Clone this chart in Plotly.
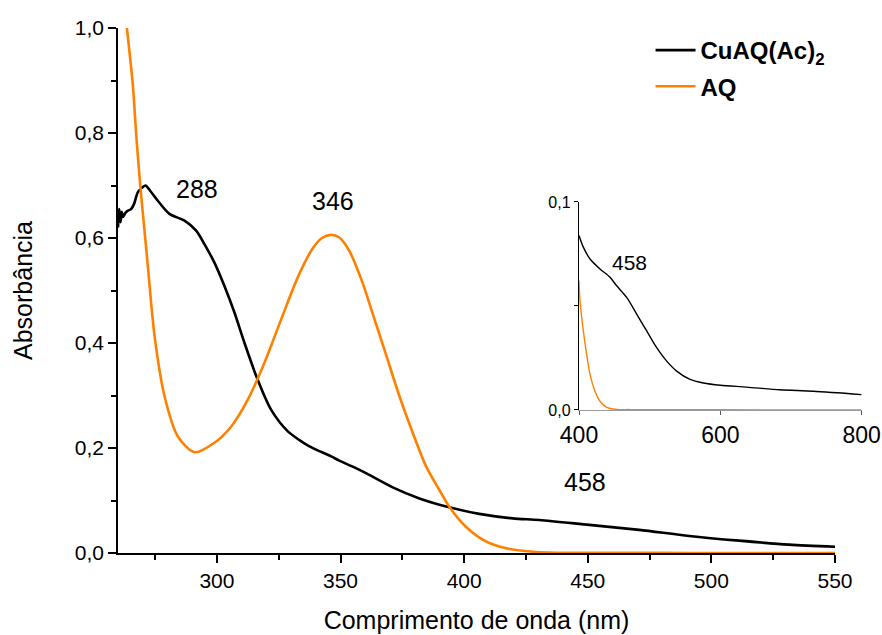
import plotly.graph_objects as go

# ---- UV-Vis spectra (main panel, 260-550 nm) ----
cuaq_wl = [260, 260.5, 261, 261.5, 262, 263, 264, 265.3, 266.5, 268, 269.5, 271.1, 273,
           276.1, 280.8, 286.9, 291.6, 295, 299, 303, 307.1, 311.1, 316.5, 321.9, 328.6,
           333.4, 336.7, 340.1, 346.2, 349.5, 355.6, 360.3, 371.1, 381.9, 394, 406.1,
           419.6, 430.4, 450.6, 470.8, 491, 511.2, 531.4, 550]
cuaq_abs = [0.62, 0.655, 0.63, 0.65, 0.64, 0.648, 0.652, 0.655, 0.665, 0.687, 0.695, 0.700, 0.69,
            0.671, 0.646, 0.633, 0.614, 0.588, 0.553, 0.509, 0.458, 0.401, 0.330, 0.273, 0.232,
            0.215, 0.205, 0.197, 0.184, 0.176, 0.163, 0.152, 0.125, 0.104, 0.087, 0.0745,
            0.066, 0.063, 0.0535, 0.044, 0.0325, 0.0235, 0.016, 0.012]

aq_wl = [263.6, 266, 267.4, 269, 270, 272, 274.8, 278.8, 284.2, 290.9, 299, 305.8, 312.5,
         319.2, 326, 332.7, 338.7, 342.5, 346, 349.5, 353.6, 358.9, 363, 368.4, 373.8, 379.2,
         384.6, 390, 394, 400.7, 408.8, 416.9, 427.7, 434.4, 445, 460, 480, 500, 525, 550]
aq_abs = [1.0, 0.891, 0.795, 0.70, 0.65, 0.55, 0.413, 0.299, 0.222, 0.192, 0.210, 0.241, 0.292,
          0.362, 0.445, 0.525, 0.58, 0.60, 0.606, 0.601, 0.575, 0.515, 0.456, 0.378, 0.299, 0.229,
          0.165, 0.120, 0.088, 0.050, 0.022, 0.009, 0.0025, 0.001, 0.0005, 0.0003, 0.0002,
          0.0001, 0.0001, 0.0001]

# ---- Visible region (inset, 400-800 nm) ----
cuaq_vis_wl = [400, 406.1, 415.6, 429.7, 443.9, 453.3, 467.5, 481.6, 495.8, 509.9, 524.1,
               538.2, 557.1, 575.9, 600, 637.3, 684.4, 731.6, 800]
cuaq_vis_abs = [0.0839, 0.0783, 0.0726, 0.0678, 0.0638, 0.0597, 0.0541, 0.0461, 0.0380, 0.0300,
                0.0235, 0.0187, 0.0147, 0.0130, 0.0119, 0.0110, 0.0097, 0.0090, 0.0074]

aq_vis_wl = [400, 401.4, 406.1, 410.8, 415.6, 422.6, 429.7, 439.2, 453.3, 472, 600, 800]
aq_vis_abs = [0.0622, 0.0525, 0.0380, 0.0267, 0.0171, 0.0090, 0.0042, 0.0013, 0.0003, 0.0002,
              0.0001, 0.0]

# peak labels: (wavelength, absorbance, text)
main_peaks = [(291.8, 0.693, "288"), (346.8, 0.671, "346"), (448.8, 0.136, "458")]
inset_peaks = [(472.0, 0.0708, "458")]

BLACK = "#000000"
ORANGE = "#FF8000"
FONT = "Liberation Sans, Arial, sans-serif"

fig = go.Figure()

main_line = dict(width=2.6, shape="spline", smoothing=0.8)
inset_line = dict(width=1.4, shape="spline", smoothing=0.8)

fig.add_trace(go.Scatter(x=cuaq_wl, y=cuaq_abs, mode="lines", name="CuAQ(Ac)<sub>2</sub>",
                         line=dict(color=BLACK, **main_line),
                         legendgroup="a", xaxis="x", yaxis="y"))
fig.add_trace(go.Scatter(x=aq_wl, y=aq_abs, mode="lines", name="AQ",
                         line=dict(color=ORANGE, **main_line),
                         legendgroup="b", xaxis="x", yaxis="y"))

fig.add_trace(go.Scatter(x=cuaq_vis_wl, y=cuaq_vis_abs, mode="lines", showlegend=False,
                         line=dict(color=BLACK, **inset_line),
                         xaxis="x2", yaxis="y2"))
fig.add_trace(go.Scatter(x=aq_vis_wl, y=aq_vis_abs, mode="lines", showlegend=False,
                         line=dict(color=ORANGE, **inset_line),
                         xaxis="x2", yaxis="y2"))

annotations = []
for wl, a, txt in main_peaks:
    annotations.append(dict(x=wl, y=a, xref="x", yref="y", text=txt, showarrow=False,
                            font=dict(size=25, color=BLACK, family=FONT)))
for wl, a, txt in inset_peaks:
    annotations.append(dict(x=wl, y=a, xref="x2", yref="y2", text=txt, showarrow=False,
                            font=dict(size=21, color=BLACK, family=FONT)))

fig.update_layout(
    width=882, height=635,
    margin=dict(l=118, r=15, t=28, b=82, autoexpand=False),
    paper_bgcolor="white", plot_bgcolor="white",
    separators=",.",
    font=dict(family=FONT, color=BLACK),
    showlegend=True,
    legend=dict(x=0.711, y=1.0, xanchor="left", yanchor="top",
                bgcolor="rgba(0,0,0,0)", borderwidth=0,
                font=dict(size=24, family=FONT, color=BLACK, weight="bold"),
                traceorder="grouped", tracegroupgap=2, itemwidth=40),
    annotations=annotations,
    xaxis=dict(domain=[0, 0.9573], range=[260, 550], showgrid=False, zeroline=False,
               automargin=False,
               showline=True, linecolor=BLACK, linewidth=1.6,
               tickmode="linear", tick0=300, dtick=50, ticks="outside", ticklen=8,
               tickwidth=1.6, tickcolor=BLACK,
               minor=dict(tick0=275, dtick=25, ticks="outside", ticklen=5, tickwidth=1.6,
                          tickcolor=BLACK),
               tickfont=dict(size=21, family=FONT, color=BLACK),
               title=dict(text="Comprimento de onda (nm)", standoff=20,
                          font=dict(size=25, family=FONT, color=BLACK))),
    yaxis=dict(domain=[0, 1], range=[0, 1.0], showgrid=False, zeroline=False,
               automargin=False,
               showline=True, linecolor=BLACK, linewidth=1.6,
               tickmode="linear", tick0=0, dtick=0.2, tickformat=".1f",
               ticks="outside", ticklen=8, tickwidth=1.6, tickcolor=BLACK,
               minor=dict(dtick=0.1, ticks="outside", ticklen=5, tickwidth=1.6,
                          tickcolor=BLACK),
               tickfont=dict(size=21, family=FONT, color=BLACK),
               title=dict(text="Absorbância", standoff=35,
                          font=dict(size=25, family=FONT, color=BLACK))),
    xaxis2=dict(domain=[0.6155, 0.9929], range=[400, 800], anchor="y2", automargin=False,
                ticklabeloverflow="allow",
                showgrid=False, zeroline=False, showline=True, linecolor="#9a9a9a",
                linewidth=1.4, tickvals=[400, 600, 800],
                ticks="outside", ticklen=4, tickwidth=1.2, tickcolor="#555555",
                tickfont=dict(size=23, family=FONT, color=BLACK)),
    yaxis2=dict(domain=[0.2724, 0.6686], range=[0, 0.1], anchor="x2", automargin=False,
                showgrid=False, zeroline=False, showline=True, linecolor=BLACK,
                linewidth=1.4, tickvals=[0, 0.1], tickformat=".1f",
                ticks="outside", ticklen=4, tickwidth=1.2, tickcolor=BLACK,
                minor=dict(tickvals=[0.05], ticks="outside", ticklen=4, tickwidth=1.2,
                           tickcolor=BLACK),
                tickfont=dict(size=16, family=FONT, color=BLACK)),
)

fig.write_html("out.html")
